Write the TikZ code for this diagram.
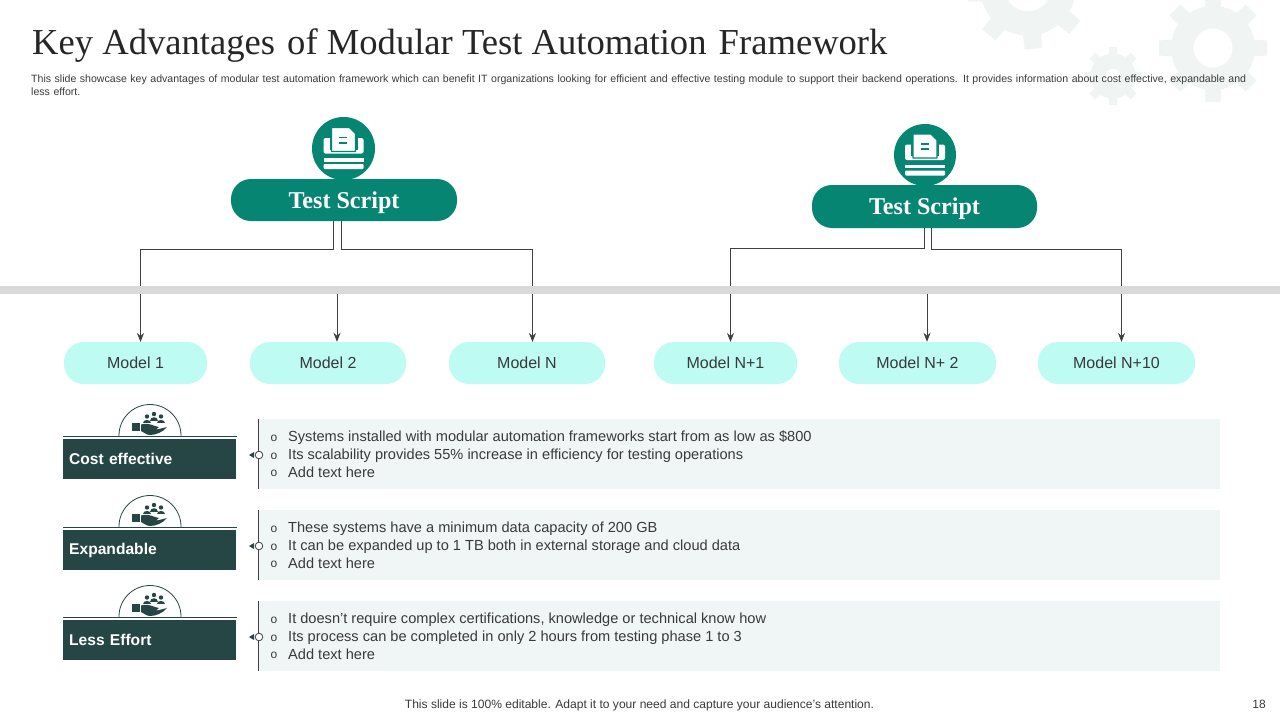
\documentclass[tikz,border=0pt]{standalone}
\usepackage{fontspec}
\setmainfont{Liberation Sans}
\newfontfamily\serifface{Liberation Serif}
\definecolor{teal1}{HTML}{078573}
\definecolor{mint}{HTML}{BDFBF3}
\definecolor{darkbox}{HTML}{264645}
\definecolor{rowbg}{HTML}{EFF6F5}
\definecolor{gearc}{HTML}{F0F5F4}
\definecolor{ink}{HTML}{404040}
\definecolor{txt}{HTML}{3A3A3A}
\newcommand{\fs}[1]{\fontsize{#1}{#1}\selectfont}
\newcommand{\gearshape}[5]{% cx cy r holefrac rot
  \begin{scope}[shift={(#1,#2)}]
  \foreach \i in {1,...,8}{
    \fill[gearc,rotate=\i*45+#5] (-#3*0.19,0) -- (-#3*0.14,-#3) -- (#3*0.14,-#3) -- (#3*0.19,0) -- cycle;}
  \fill[gearc] (0,0) circle ({#3*0.78});
  \fill[white] (0,0) circle ({#3*#4});
  \end{scope}}
\newcommand{\docicon}[2]{%
  \begin{scope}[shift={(#1,#2)}]
  \fill[white,rounded corners=2] (-20,-9) rectangle (20,6.5);
  \fill[teal1] (-14,-11) rectangle (14,2.5);
  \filldraw[fill=white,draw=teal1,line width=1.4,line join=round] (-12,-19.5) -- (6,-19.5) -- (12,-13.5) -- (12,4.5) -- (-12,4.5) -- cycle;
  \fill[teal1] (-4.5,-10.5) rectangle (3.5,-9);
  \fill[teal1] (-4.5,-5.5) rectangle (3.5,-3.5);
  \fill[white] (-20,11) rectangle (20,14.5);
  \fill[white,rounded corners=1] (-20,17) rectangle (20,22);
  \end{scope}}
\newcommand{\handicon}[2]{%
  \begin{scope}[shift={(#1,#2)}]
  \fill[darkbox] (-18,2) rectangle (-10,10);
  \fill[darkbox] (-9,3.5) .. controls (-4,2) and (0,3) .. (5,5) -- (9,6) -- (6,8.5) -- (9,8) -- (17,6)
     .. controls (13,11) and (6,14) .. (0,14) .. controls (-4,14) and (-6,11) .. (-9,10) -- cycle;
  \foreach \a/\b in {-3/-4.5,11/-4.5,4/-7}{
    \fill[darkbox] (\a,\b) circle (2.2);
    \fill[darkbox] (\a-4,\b+6.5) .. controls (\a-4,\b+2) and (\a+4,\b+2) .. (\a+4,\b+6.5) -- cycle;}
  \end{scope}}
\usetikzlibrary{arrows.meta,calc}
\tikzset{
  ts/.style={fill=teal1,rounded corners=20,minimum height=42,inner sep=0,text=white,font=\serifface\bfseries\fs{24.1}},
  model/.style={fill=mint,rounded corners=20,minimum height=42,inner sep=0,text=txt,font=\fs{16}},
  lab/.style={fill=darkbox,minimum width=173,minimum height=40,inner sep=0,text=white,font=\bfseries\fs{15.6},text width=167,align=left},
  conn/.style={draw=ink,line width=0.8},
  arr/.style={conn,-{Stealth[length=9,width=7]}},
  row/.style={fill=rowbg,minimum width=962,minimum height=70,inner sep=0},
  rowline/.style={anchor=west,inner sep=0,text=txt,font=\fs{14.6}},
  bul/.style={anchor=center,inner sep=0,text=txt,font=\fs{12}},
}
% one row: y, label, three lines, name, left block y
\newcommand{\rowblock}[7]{%
  \node[row,anchor=west] (r#6) at (258,#1) {};
  \draw[ink,line width=0.8] (r#6.north west) -- (r#6.south west);
  \draw[darkbox,line width=0.8,fill=white] (150,#7-18.5) circle (31);
  \fill[white] (110,#7-17) rectangle (190,#7+5);
  \draw[darkbox,line width=1] (63,#7-17.5) -- (237,#7-17.5);
  \handicon{150}{#7-33}
  \node[lab,anchor=west] (l#6) at (63,#7+5) {\hspace{3pt}\raisebox{-0.7pt}{#2}};
  \draw[ink,line width=0.8,fill=white] (259,#1+1) circle (3.8);
  \fill[darkbox] (249,#1+1) -- (254,#1-2) -- (254,#1+4) -- cycle;
  \node[bul] at (274,#1-15.5) {o};
  \node[rowline] (r#6a) at (288,#1-16.5) {#3};
  \node[bul] at (274,#1+2.5) {o};
  \node[rowline] (r#6b) at (288,#1+1.5) {#4};
  \node[bul] at (274,#1+19.5) {o};
  \node[rowline] (r#6c) at (288,#1+18) {#5};
}
\begin{document}
\begin{tikzpicture}[x=1pt,y=-1pt]
\useasboundingbox (0,0) rectangle (1280,720);
\fill[white] (0,0) rectangle (1280,720);
\gearshape{1028}{-12}{61}{0.38}{5}
\gearshape{1213}{48}{54}{0.36}{0}
\gearshape{1113}{76}{29}{0.25}{0}
\node[anchor=west,inner sep=0,text=black!85,font=\serifface\fs{36.6}] (title) at (32,46) {Key Advantages\hspace{3pt} of Modular Test Automation\hspace{3pt} Framework};
\node[anchor=north west,inner sep=0,text=txt,font=\fontsize{10.57}{13}\selectfont,text width=1240,align=left] (sub) at (31,75) {This slide showcase key advantages of modular test automation framework which can benefit IT organizations looking for efficient and effective testing module to support their backend operations. It provides information about cost effective, expandable and\\ less effort.};
% Test script nodes
\node[ts,minimum width=226] (ts1) at (344,200) {\raisebox{-8pt}[0pt][0pt]{Test Script}};
\node[ts,minimum width=225,minimum height=43] (ts2) at (924.5,206.5) {\raisebox{-8pt}[0pt][0pt]{Test Script}};
% models
\node[model,minimum width=143] (m1) at (135.5,363) {Model 1};
\node[model,minimum width=156] (m2) at (328,363) {Model 2};
\node[model,minimum width=156] (m3) at (527,363) {Model N};
\node[model,minimum width=143] (m4) at (725.5,363) {Model N+1};
\node[model,minimum width=157] (m5) at (917.5,363) {Model N+ 2};
\node[model,minimum width=157] (m6) at (1116.5,363) {Model N+10};
\coordinate (b2) at (337,290);
\coordinate (b5) at (927,290);
% connectors
\draw[arr] (333.5,221) -- (333.5,249) -- (140.5,249) -- (140.5,342);
\draw[arr] (341.5,221) -- (341.5,249.5) -- (532.5,249.5) -- (532.5,342);
\draw[arr] (b2) -- (b2 |- m2.north);
\draw[arr] (924,228) -- (924,248.5) -- (730.5,248.5) -- (730.5,342);
\draw[arr] (931.5,228) -- (931.5,249) -- (1121.5,249) -- (1121.5,342);
\draw[arr] (b5) -- (b5 |- m5.north);
% band
\fill[black!15] (0,286) rectangle (1280,294);
% icon circles
\fill[teal1] (343.5,148.5) circle (31.5);
\docicon{343.5}{147}
\fill[teal1] (925,155) circle (31);
\docicon{925}{153.5}
% rows
\rowblock{454}{Cost effective}{Systems installed with modular automation frameworks start from as low as \$800}{Its scalability provides 55\% increase in efficiency for testing operations}{Add text here}{1}{454}
\rowblock{545}{Expandable}{These systems have a minimum data capacity of 200 GB}{It can be expanded up to 1 TB both in external storage and cloud data}{Add text here}{2}{545}
\rowblock{636}{Less Effort}{It doesn’t require complex certifications, knowledge or technical know how}{Its process can be completed in only 2 hours from testing phase 1 to 3}{Add text here}{3}{635}
\node[inner sep=0,text=txt,font=\fs{12.05}] (foot) at (639.5,705) {This slide is 100\% editable. Adapt it to your need and capture your audience’s attention.};
\node[inner sep=0,text=txt,font=\fs{12}] (pg) at (1259,704) {18};
\end{tikzpicture}
\end{document}
